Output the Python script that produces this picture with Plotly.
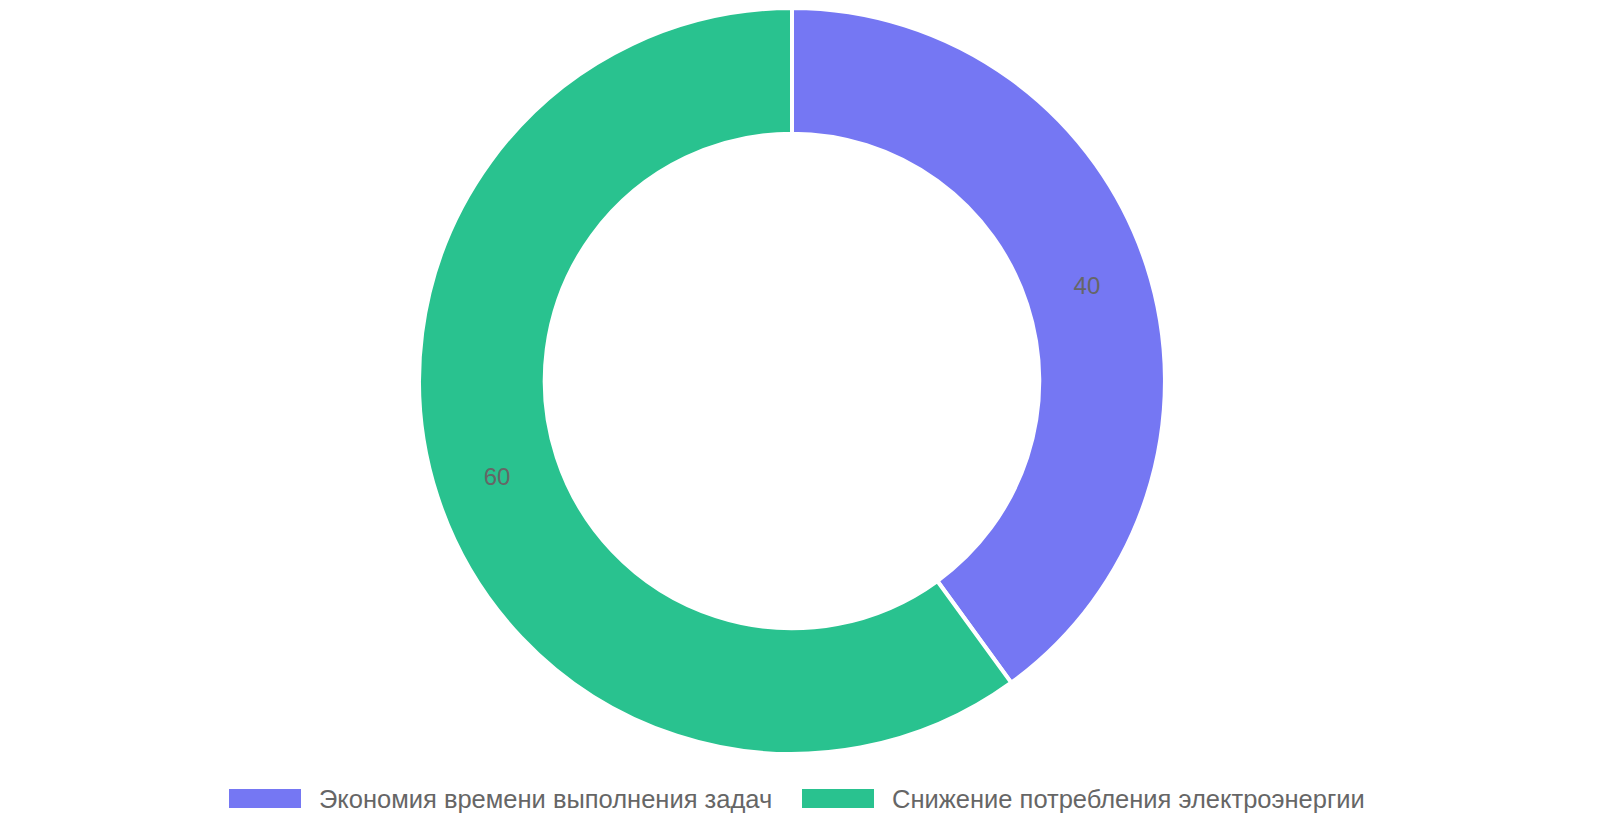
import plotly.graph_objects as go

# Данные диаграммы
labels = ['Экономия времени выполнения задач', 'Снижение потребления электроэнергии']
values = [40, 60]
colors = ['#7577F3', '#29C28F']

W, H = 1600, 840

fig = go.Figure()

fig.add_trace(go.Pie(labels=labels, values=values,
                     hole=0.663,
                     sort=False,
                     direction='clockwise',
                     rotation=0,
                     marker=dict(colors=colors, line=dict(color='white', width=4)),
                     textinfo='value',
                     textposition='inside',
                     insidetextorientation='horizontal',
                     textfont=dict(family='Liberation Sans, Arial', size=24, color='#666666'),
                     hoverinfo='label+value+percent',
                     domain=dict(x=[0.0, 0.98], y=[0.112, 1.0]),
                     showlegend=False))

# Легенда внизу: прямоугольные маркеры как в оригинале
legend_x = [221, 794]   # левый край маркера, px
for x0, lab, col in zip(legend_x, labels, colors):
    fig.add_shape(type='rect', xref='paper', yref='paper',
                  x0=x0 / W, x1=(x0 + 72) / W,
                  y0=(H - 800) / H, y1=(H - 781) / H,
                  fillcolor=col, line=dict(width=0))
    fig.add_annotation(x=(x0 + 88) / W, y=(H - 790.5) / H,
                       xref='paper', yref='paper',
                       xanchor='left', yanchor='middle',
                       text=lab, showarrow=False,
                       font=dict(family='Liberation Sans, Arial', size=25.5, color='#666666'))

fig.update_layout(width=W, height=H,
                  margin=dict(l=0, r=0, t=0, b=0),
                  paper_bgcolor='white',
                  plot_bgcolor='white')

fig.write_html('out.html')
